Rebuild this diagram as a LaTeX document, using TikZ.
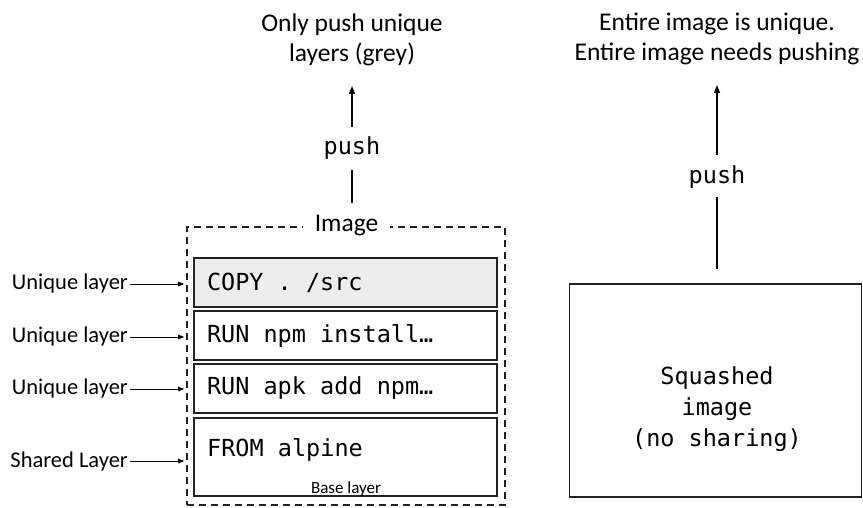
\documentclass[tikz,border=0pt]{standalone}
\usepackage{fontspec}
\setmainfont{Carlito}
\newfontfamily\codefont{DejaVu Sans Mono}
\usetikzlibrary{arrows.meta,positioning}
\definecolor{DlInk}{RGB}{34,34,34}
\definecolor{DlGrey}{RGB}{237,237,237}
\tikzset{
  dl/layer/.style={
    draw=DlInk,
    line width=1.5pt,
    fill=white,
    minimum width=303pt,
    minimum height=49pt,
    text width=277pt,
    inner xsep=13pt,
    align=flush left,
    font=\codefont\fontsize{23.5}{28}\selectfont
  },
  dl/frame/.style={
    draw=DlInk,
    line width=1.6pt,
    dash pattern=on 7pt off 5pt,
    minimum width=318pt,
    minimum height=278pt
  },
  dl/squash/.style={
    draw=DlInk,
    line width=1.6pt,
    minimum width=292pt,
    minimum height=213pt
  },
  dl/code/.style={font=\codefont\fontsize{23.5}{31}\selectfont, inner sep=0pt},
  dl/note/.style={font=\fontsize{25.5}{30.5}\selectfont, align=flush center, inner sep=0pt},
  dl/title/.style={font=\fontsize{25.5}{28}\selectfont, fill=white, inner xsep=12pt, inner ysep=2pt},
  dl/side/.style={font=\fontsize{22.5}{24}\selectfont, inner sep=0pt},
  dl/tiny/.style={font=\fontsize{17}{19}\selectfont, inner sep=0pt},
  dl/arrow/.style={-{Triangle[length=8pt,width=6pt]}, line width=1.6pt, draw=black},
  dl/line/.style={line width=1.6pt, draw=black},
  dl/thinarrow/.style={-{Triangle[length=6pt,width=4.5pt]}, line width=0.8pt, draw=black}
}
\begin{document}
\begin{tikzpicture}[x=1pt,y=-1pt]
  \useasboundingbox (0,0) rectangle (863,508);
  % layered image
  \node[dl/frame] (image) at (346,366) {};
  \node[dl/title] (imglbl) at (346.5,226) {Image};
  \node[dl/layer,fill=DlGrey] (copy) at (345.5,282.5) {COPY . /src};
  \node[dl/layer] (npm) at (345.5,335.5) {RUN npm install…};
  \node[dl/layer] (apk) at (345.5,388.5) {RUN apk add npm…};
  \node[dl/layer,minimum height=78pt] (from) at (345.5,457) {};
  \node[dl/code,anchor=west] (fromtxt) at (207,450) {FROM alpine};
  \node[dl/tiny] (base) at (346,489) {Base layer};
  % side labels
  \node[dl/side,anchor=east] (u1) at (128,284) {Unique layer};
  \node[dl/side,anchor=east] (u2) at (128,337) {Unique layer};
  \node[dl/side,anchor=east] (u3) at (128,389) {Unique layer};
  \node[dl/side,anchor=east] (sh) at (128,461) {Shared Layer};
  \foreach \l in {u1,u2,u3,sh}
    \draw[dl/thinarrow,shorten <=2pt,shorten >=2pt] (\l.east) -- (\l.east -| image.west);
  % push of the layered image
  \node[dl/code] (push1) at (352,148) {push};
  \node[dl/note] (note1) at (352,40) {Only push unique\\layers (grey)};
  \draw[dl/arrow,shorten <=21pt,shorten >=46pt] (push1.center) -- (note1.center);
  \draw[dl/line,shorten <=22pt,shorten >=23pt] (push1.center) -- (push1.center |- imglbl.center);
  % squashed image
  \node[dl/squash] (squash) at (715.5,390.5) {};
  \node[dl/code,align=flush center] (squashtxt) at (717,409) {Squashed\\image\\(no sharing)};
  \node[dl/code] (push2) at (717,177) {push};
  \node[dl/note] (note2) at (717,39) {Entire image is unique.\\Entire image needs pushing};
  \draw[dl/arrow,shorten <=22pt,shorten >=46pt] (push2.center) -- (note2.center);
  \draw[dl/line,shorten <=20pt,shorten >=14pt] (push2.center) -- (push2.center |- squash.north);
\end{tikzpicture}
\end{document}
